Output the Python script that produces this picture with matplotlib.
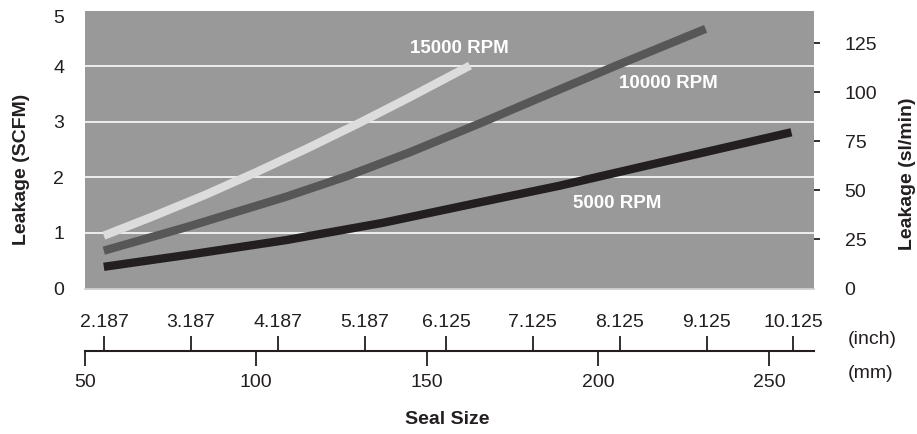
import matplotlib
matplotlib.use('Agg')
import matplotlib.pyplot as plt
import matplotlib.transforms as mtransforms

# seal size in mm, leakage in SCFM
x_15000 = [55.5, 70, 85, 100, 115, 130, 145, 162.6]
y_15000 = [0.95, 1.30, 1.68, 2.09, 2.52, 2.97, 3.44, 4.01]

x_10000 = [55.5, 80, 108.8, 126.6, 145, 165.5, 183, 205, 231.5]
y_10000 = [0.68, 1.11, 1.65, 2.02, 2.45, 2.97, 3.43, 4.0, 4.67]

x_5000 = [55.5, 80, 108.8, 137, 165.5, 188.9, 222, 256.6]
y_5000 = [0.39, 0.605, 0.87, 1.18, 1.55, 1.85, 2.32, 2.81]

scfm_ticks = [0, 1, 2, 3, 4, 5]
slmin_ticks = [0, 25, 50, 75, 100, 125]
mm_ticks = [50, 100, 150, 200, 250]
inch_ticks = [2.187, 3.187, 4.187, 5.187, 6.125, 7.125, 8.125, 9.125, 10.125]
inch_labels = ['2.187', '3.187', '4.187', '5.187', '6.125', '7.125', '8.125', '9.125', '10.125']

SCFM_TO_SLMIN = 28.317
XMIN, XMAX = 50, 263.2

plt.rcParams['font.family'] = ['Liberation Sans', 'DejaVu Sans']

fig = plt.figure(figsize=(9.17, 4.34), dpi=100)
L, W = 85 / 917, 729 / 917
ax = fig.add_axes([L, 1 - 288.5 / 434, W, 278 / 434])
ax.set_facecolor('#999999')
for s in ax.spines.values():
    s.set_visible(False)

for v in scfm_ticks[1:5]:
    ax.axhline(v, color='#f4f4f4', lw=1.3, zorder=1)
ax.axhline(0, color='#cfcfcf', lw=1.3, zorder=1, clip_on=False)

ax.plot(x_15000, y_15000, color='#dcdcdc', lw=6, solid_capstyle='butt', zorder=3)
ax.plot(x_10000, y_10000, color='#575757', lw=6, solid_capstyle='butt', zorder=3)
ax.plot(x_5000, y_5000, color='#231f20', lw=6, solid_capstyle='butt', zorder=3)

ax.text(159.6, 4.31, '15000 RPM', color='white', fontsize=13.5, fontweight='bold',
        ha='center', va='center')
ax.text(220.5, 3.68, '10000 RPM', color='white', fontsize=13.5, fontweight='bold',
        ha='center', va='center')
ax.text(205.6, 1.52, '5000 RPM', color='white', fontsize=13.5, fontweight='bold',
        ha='center', va='center')

ax.set_xlim(XMIN, XMAX)
ax.set_ylim(0, 5)
ax.set_xticks([])
ax.set_yticks(scfm_ticks)
ax.tick_params(axis='y', length=0, pad=15, labelsize=14, colors='#231f20')
top = ax.get_yticklabels()[-1]
top.set_transform(top.get_transform() +
                  mtransforms.ScaledTranslation(0, -0.06, fig.dpi_scale_trans))

axr = ax.twinx()
for s in axr.spines.values():
    s.set_visible(False)
axr.set_ylim(0, 5 * SCFM_TO_SLMIN)
axr.set_yticks(slmin_ticks)
axr.tick_params(axis='y', length=4, width=1.3, pad=18, labelsize=14, colors='#231f20')
axr.yaxis.get_major_ticks()[0].tick2line.set_visible(False)

fig.text(22 / 917, 1 - 169 / 434, 'Leakage (SCFM)', rotation=90, fontsize=14,
         fontweight='bold', ha='center', va='center', color='#231f20')
fig.text(907 / 917, 1 - 174 / 434, 'Leakage (sl/min)', rotation=90, fontsize=14,
         fontweight='bold', ha='center', va='center', color='#231f20')

# scale axis below the plot: inches above the line, mm below
axb = fig.add_axes([L, 1 - 350.7 / 434, W, 0.0001])
axb.patch.set_visible(False)
for k in ['left', 'right', 'top']:
    axb.spines[k].set_visible(False)
axb.spines['bottom'].set_linewidth(1.5)
axb.spines['bottom'].set_color('#231f20')
axb.set_yticks([])
axb.set_xlim(XMIN, XMAX)
axb.set_xticks(mm_ticks)
axb.tick_params(axis='x', direction='out', length=10.5, width=1.3, pad=6,
                labelsize=14, colors='#231f20')

sec = axb.secondary_xaxis('top', functions=(lambda m: m / 25.4, lambda i: i * 25.4))
sec.spines['top'].set_visible(False)
sec.set_xticks(inch_ticks, labels=inch_labels)
sec.tick_params(axis='x', direction='out', length=10.5, width=1.3, pad=3.5,
                labelsize=14, colors='#231f20')

fig.text(848 / 917, 1 - 340 / 434, '(inch)', fontsize=14, ha='left', va='center',
         color='#231f20')
fig.text(848 / 917, 1 - 373 / 434, '(mm)', fontsize=14, ha='left', va='center',
         color='#231f20')
fig.text(447 / 917, 1 - 420 / 434, 'Seal Size', fontsize=14, fontweight='bold',
         ha='center', va='center', color='#231f20')

fig.savefig('out.png', dpi=100)
